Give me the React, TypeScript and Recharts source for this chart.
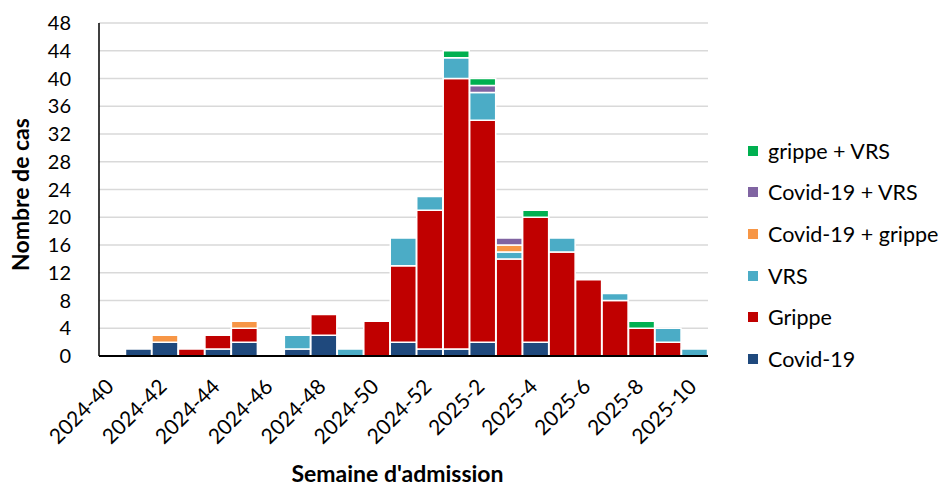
import React from "react";
import { BarChart, Bar, XAxis, YAxis, CartesianGrid, Label } from "recharts";

const weeks = [
  "2024-40", "2024-41", "2024-42", "2024-43", "2024-44", "2024-45", "2024-46",
  "2024-47", "2024-48", "2024-49", "2024-50", "2024-51", "2024-52",
  "2025-1", "2025-2", "2025-3", "2025-4", "2025-5", "2025-6", "2025-7",
  "2025-8", "2025-9", "2025-10",
];
const covid = [0, 1, 2, 0, 1, 2, 0, 1, 3, 0, 0, 2, 1, 1, 2, 0, 2, 0, 0, 0, 0, 0, 0];
const grippe = [0, 0, 0, 1, 2, 2, 0, 0, 3, 0, 5, 11, 20, 39, 32, 14, 18, 15, 11, 8, 4, 2, 0];
const vrs = [0, 0, 0, 0, 0, 0, 0, 2, 0, 1, 0, 4, 2, 3, 4, 1, 0, 2, 0, 1, 0, 2, 1];
const covidGrippe = [0, 0, 1, 0, 0, 1, 0, 0, 0, 0, 0, 0, 0, 0, 0, 1, 0, 0, 0, 0, 0, 0, 0];
const covidVrs = [0, 0, 0, 0, 0, 0, 0, 0, 0, 0, 0, 0, 0, 0, 1, 1, 0, 0, 0, 0, 0, 0, 0];
const grippeVrs = [0, 0, 0, 0, 0, 0, 0, 0, 0, 0, 0, 0, 0, 1, 1, 0, 1, 0, 0, 0, 1, 0, 0];
const yTicks = [0, 4, 8, 12, 16, 20, 24, 28, 32, 36, 40, 44, 48];

const series = [
  { key: "covid", name: "Covid-19", color: "#1F497D", values: covid },
  { key: "grippe", name: "Grippe", color: "#C00000", values: grippe },
  { key: "vrs", name: "VRS", color: "#4BACC6", values: vrs },
  { key: "covidGrippe", name: "Covid-19 + grippe", color: "#F79646", values: covidGrippe },
  { key: "covidVrs", name: "Covid-19 + VRS", color: "#8064A2", values: covidVrs },
  { key: "grippeVrs", name: "grippe + VRS", color: "#00B050", values: grippeVrs },
];

const data = weeks.map((w, i) => {
  const row: any = { week: w };
  series.forEach((s) => {
    row[s.key] = s.values[i];
  });
  return row;
});

const FONT = "Lato, 'Open Sans', sans-serif";

const XTick = (props: any) => {
  const { x, y, payload } = props;
  const ax = x + 3;
  const ay = y + 24;
  return (
    <text
      x={ax}
      y={ay}
      textAnchor="end"
      fontSize={21}
      fontFamily={FONT}
      fill="#000"
      transform={`rotate(-45, ${ax}, ${ay})`}
    >
      {payload.value}
    </text>
  );
};

const XTitle = (props: any) => {
  const vb = props.viewBox || { x: 0, y: 0, width: 0, height: 0 };
  const cx = vb.x + vb.width / 2 - 6;
  const by = vb.y + vb.height - 6;
  return (
    <text x={cx} y={by} textAnchor="middle" fontFamily={FONT} fontSize={23} fontWeight={700} fill="#000">
      Semaine d'admission
    </text>
  );
};

const YTitle = (props: any) => {
  const vb = props.viewBox || { x: 0, y: 0, width: 0, height: 0 };
  const bx = vb.x + 29;
  const cy = vb.y + vb.height / 2 + 5;
  return (
    <text
      x={bx}
      y={cy}
      textAnchor="middle"
      fontFamily={FONT}
      fontSize={23}
      fontWeight={700}
      fill="#000"
      transform={`rotate(-90, ${bx}, ${cy})`}
    >
      Nombre de cas
    </text>
  );
};

const LegendBox = () => {
  const items = [...series].reverse();
  return (
    <div
      style={{
        position: "absolute",
        left: 748,
        top: 130,
        fontFamily: FONT,
        fontSize: 21.5,
        color: "#000",
        whiteSpace: "nowrap",
      }}
    >
      {items.map((s) => (
        <div key={s.key} style={{ display: "flex", alignItems: "center", height: 41.6 }}>
          <span
            style={{
              display: "inline-block",
              width: 10,
              height: 10,
              background: s.color,
              marginRight: 10,
            }}
          />
          <span>{s.name}</span>
        </div>
      ))}
    </div>
  );
};

export default function App() {
  return (
    <div style={{ position: "absolute", left: 0, top: 0, width: 943, height: 488, background: "#fff" }}>
      <BarChart
        width={943}
        height={488}
        data={data}
        margin={{ top: 23, right: 235, bottom: 0, left: 0 }}
        barCategoryGap={0}
        barGap={0}
      >
        <CartesianGrid vertical={false} stroke="#D9D9D9" strokeWidth={1.5} />
        <XAxis
          dataKey="week"
          interval={1}
          tick={<XTick />}
          tickLine={false}
          axisLine={{ stroke: "#000", strokeWidth: 2 }}
          height={132}
        >
          <Label content={<XTitle />} />
        </XAxis>
        <YAxis
          domain={[0, 48]}
          ticks={yTicks}
          interval={0}
          width={99}
          tickLine={false}
          axisLine={{ stroke: "#000", strokeWidth: 1.5 }}
          tick={{ fontSize: 20, fontFamily: FONT, fill: "#000" }}
          tickMargin={22}
        >
          <Label content={<YTitle />} />
        </YAxis>
        {series.map((s) => (
          <Bar
            key={s.key}
            dataKey={s.key}
            name={s.name}
            stackId="a"
            fill={s.color}
            stroke="#fff"
            strokeWidth={1.5}
            isAnimationActive={false}
          />
        ))}
      </BarChart>
      <LegendBox />
    </div>
  );
}
